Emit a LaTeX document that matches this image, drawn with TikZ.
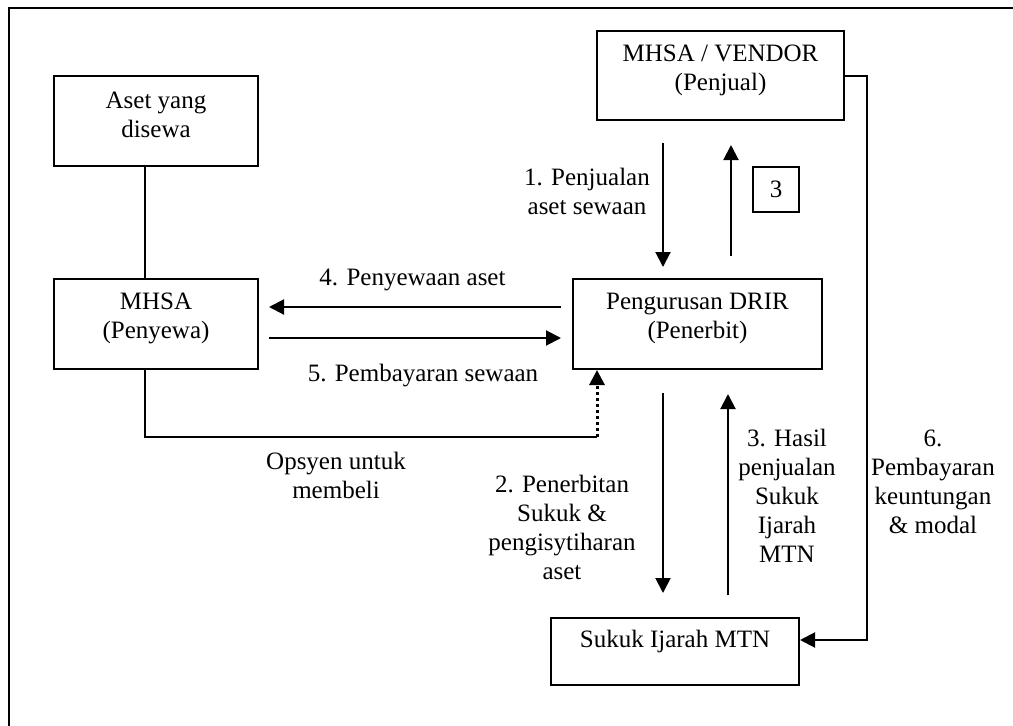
\documentclass[tikz,border=0pt]{standalone}
\usepackage{fontspec}
\setmainfont{Liberation Serif}
\usepackage{tikz}
\usetikzlibrary{arrows.meta}

\tikzset{
  box/.style={draw, line width=2pt, rectangle, inner sep=0pt},
  txt/.style={align=center, font=\fontsize{25}{29}\selectfont, inner sep=0pt},
  arr/.style={line width=2pt, -{Triangle[length=15pt,width=15pt]}},
  link/.style={line width=2pt},
  dotarr/.style={line width=3pt, dash pattern=on 3pt off 3pt, -{Triangle[length=15pt,width=15pt]}}
}

\begin{document}
\begin{tikzpicture}[x=1pt,y=-1pt]
\useasboundingbox (0,0) rectangle (1013,726);
\draw[link] (9,726) -- (9,8) -- (1013,8);

% boxes
\node[box, minimum width=204, minimum height=90, label={[txt,yshift=6pt]center:{Aset yang\\disewa}}] (aset) at (156,121) {};
\node[box, minimum width=247, minimum height=89, label={[txt,yshift=5pt]center:{MHSA / VENDOR\\(Penjual)}}] (vendor) at (720.5,75.5) {};
\node[box, minimum width=204, minimum height=90, label={[txt,yshift=6pt]center:{MHSA\\(Penyewa)}}] (mhsa) at (156,324) {};
\node[box, minimum width=249, minimum height=90, label={[txt,yshift=6pt]center:{Pengurusan DRIR\\(Penerbit)}}] (drir) at (697.5,324) {};
\node[box, minimum width=248, minimum height=67, label={[txt,yshift=10pt]center:{Sukuk Ijarah MTN}}] (sukuk) at (675,651.5) {};
\node[box, txt, minimum width=46, minimum height=45] (three) at (776,189.5) {3};

% labels
\node[txt] (l1) at (587,191.5) {1. Penjualan\\aset sewaan};
\node[txt] (l4) at (412.5,280) {4. Penyewaan aset};
\node[txt] (l5) at (423,376) {5. Pembayaran sewaan};
\node[txt] (lop) at (336,475) {Opsyen untuk\\membeli};
\node[txt] (l2) at (562,527) {2. Penerbitan\\Sukuk \&\\pengisytiharan\\aset};
\node[txt] (l3) at (787,496) {3. Hasil\\penjualan\\Sukuk\\Ijarah\\MTN};
\node[txt] (l6) at (933,482) {6.\\Pembayaran\\keuntungan\\\& modal};

% connectors
\coordinate (c1) at (663,0);
\coordinate (c2) at (731,0);
\coordinate (c3) at (728,0);
\coordinate (bend) at (597,437);
\coordinate (c6) at (867,640);

\draw[link] ([xshift=-11pt]aset.south) -- ([xshift=-11pt]mhsa.north);
\draw[arr, shorten <=22pt, shorten >=11pt] (vendor.south -| c1) -- (drir.north -| c1);
\draw[arr, shorten <=22pt, shorten >=24pt] (drir.north -| c2) -- (vendor.south -| c2);
\draw[arr, shorten <=11pt, shorten >=10pt] ([yshift=17pt]drir.west) -- ([yshift=17pt]drir.west -| mhsa.east);
\draw[arr, shorten <=10pt, shorten >=11pt] ([yshift=-14pt]mhsa.east) -- ([yshift=-14pt]mhsa.east -| drir.west);
\draw[link] ([xshift=-11pt]mhsa.south) |- (bend);
\draw[dotarr] (bend) -- (drir.south -| bend);
\draw[arr, shorten <=23pt, shorten >=24pt] (drir.south -| c1) -- (sukuk.north -| c1);
\draw[arr, shorten <=22pt, shorten >=24pt] (sukuk.north -| c3) -- (drir.south -| c3);
\draw[arr] (vendor.east) -| (c6) -- ([yshift=11.5pt]sukuk.east);
\end{tikzpicture}
\end{document}
